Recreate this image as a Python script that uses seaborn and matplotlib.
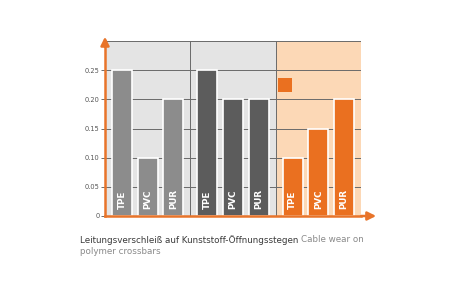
import matplotlib
matplotlib.use("Agg")
import matplotlib.pyplot as plt
import seaborn as sns
import pandas as pd
from matplotlib.patches import Rectangle

# ---- data ----
groups = ["G1", "G2", "G3"]
materials = ["TPE", "PVC", "PUR"]
values_g1 = [0.25, 0.10, 0.20]
values_g2 = [0.25, 0.20, 0.20]
values_g3 = [0.10, 0.15, 0.20]
ytick_vals = [0, 0.05, 0.10, 0.15, 0.20, 0.25]
ytick_labels = ["0", "0.05", "0.10", "0.15", "0.20", "0.25"]
caption_de = "Leitungsverschleiß auf Kunststoff-Öffnungsstegen"
caption_en1 = "Cable wear on"
caption_en2 = "polymer crossbars"

bar_colors = ["#8c8c8c", "#5c5c5c", "#ea7020"]
bg_colors = ["#e4e4e4", "#e4e4e4", "#fcd8b6"]

group_step = 3.333
rows = []
for gi, (g, vals) in enumerate(zip(groups, [values_g1, values_g2, values_g3])):
    for bi, (m, v) in enumerate(zip(materials, vals)):
        rows.append({"group": g, "material": m, "value": v, "x": gi * group_step + bi})
df = pd.DataFrame(rows)

sns.set_style("white")
fig = plt.figure(figsize=(4.49, 2.99), dpi=100)
ax = fig.add_axes([105 / 449, 1 - 216 / 299, 256 / 449, 175 / 299])

x0 = -0.667
for gi in range(3):
    left = x0 + gi * group_step
    ax.axvspan(left, left + group_step, color=bg_colors[gi], zorder=0, lw=0)

sns.barplot(data=df, x="x", y="value", hue="group", palette=bar_colors,
            native_scale=True, dodge=False, width=0.78, legend=False,
            saturation=1, edgecolor="white", linewidth=1.2, ax=ax, zorder=3)

for y in [0.05, 0.10, 0.15, 0.20, 0.25, 0.30]:
    ax.axhline(y, color="#6a6a6a", lw=0.7, zorder=2)
for gi in range(1, 4):
    ax.axvline(x0 + gi * group_step, color="#6a6a6a", lw=0.7, zorder=4)

for _, r in df.iterrows():
    ax.text(r["x"], 0.012, r["material"], rotation=90, ha="center", va="bottom",
            color="white", fontsize=6.3, fontweight="bold", zorder=5)

ax.set_xlim(x0, x0 + 3 * group_step)
ax.set_ylim(0, 0.30)
ax.set_xticks([])
ax.set_yticks(ytick_vals)
ax.set_yticklabels(ytick_labels, fontsize=4.8, color="#555555")
ax.tick_params(axis="y", length=3, width=0.6, color="#555555", pad=1, left=True)
ax.set_xlabel("")
ax.set_ylabel("")
for s in ["top", "right"]:
    ax.spines[s].set_visible(False)
for s in ["left", "bottom"]:
    ax.spines[s].set_color("#e8742a")
    ax.spines[s].set_linewidth(1.8)
    ax.spines[s].set_zorder(6)

# arrows
ax.annotate("", xy=(0, 1.04), xytext=(0, 0.95), xycoords="axes fraction",
            arrowprops=dict(arrowstyle="-|>,head_width=0.25,head_length=0.5",
                            color="#e8742a", lw=1.8), annotation_clip=False)
ax.annotate("", xy=(1.07, 0), xytext=(0.99, 0), xycoords="axes fraction",
            arrowprops=dict(arrowstyle="-|>,head_width=0.25,head_length=0.5",
                            color="#e8742a", lw=1.8), annotation_clip=False)

# legend square
ax.add_patch(Rectangle((0.676, 0.709), 0.055, 0.08, transform=ax.transAxes,
                       color="#ea7020", zorder=5, lw=0))

# caption
t1 = fig.text(80 / 449, 1 - 240 / 299, caption_de, fontsize=6.3, color="#3a3a3a", va="center")
fig.canvas.draw()
bb = t1.get_window_extent()
fig.text((bb.x1 + 3) / 449, 1 - 240 / 299, caption_en1, fontsize=6.3, color="#8a8a8a", va="center")
fig.text(80 / 449, 1 - 252 / 299, caption_en2, fontsize=6.3, color="#8a8a8a", va="center")

fig.savefig("out.png", dpi=100)
